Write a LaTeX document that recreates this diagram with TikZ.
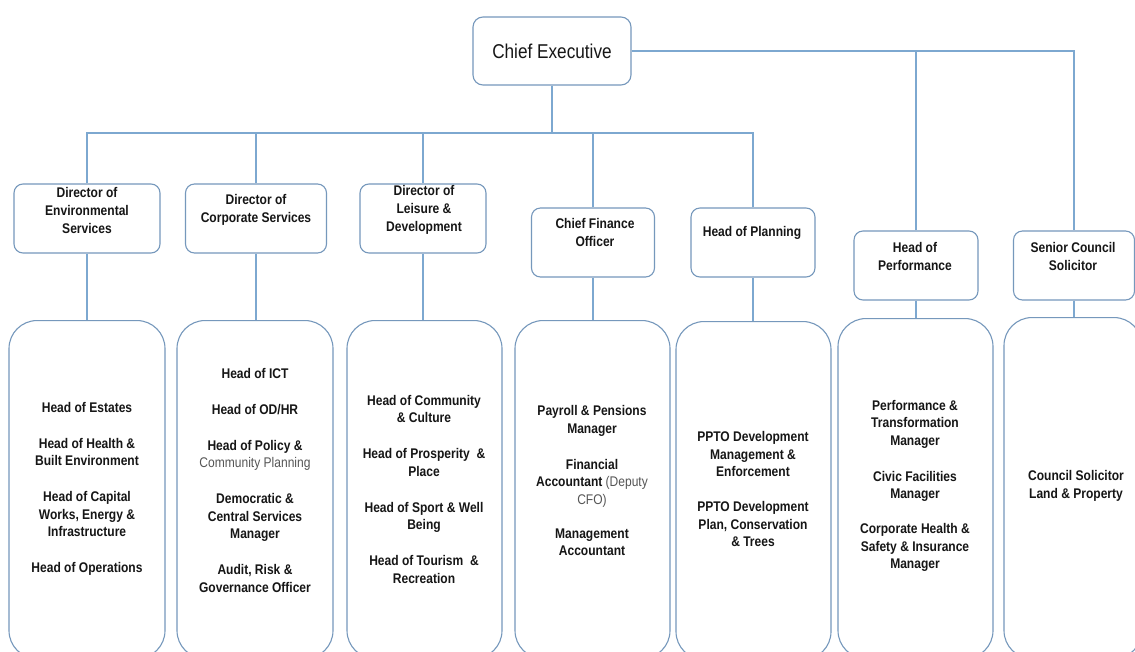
\documentclass[tikz,border=0pt]{standalone}
\usepackage{fontspec}
\setmainfont{Liberation Sans}
\newfontfamily\nbold[FakeStretch=0.86]{Liberation Sans Bold}
\newfontfamily\nreg[FakeStretch=0.86]{Liberation Sans}
\definecolor{linec}{RGB}{125,168,208}
\definecolor{boxc}{RGB}{118,152,188}
\definecolor{txtc}{RGB}{22,22,22}
\definecolor{greytxt}{RGB}{85,85,85}
\tikzset{
  conn/.style={draw=linec, line width=1.2pt},
  topbox/.style={draw=boxc, line width=1.1pt, rounded corners=10pt, fill=white, inner sep=0pt, text=txtc},
  dirbox/.style={draw=boxc, line width=1.1pt, rounded corners=9pt, fill=white, minimum height=69pt, inner sep=0pt},
  bigbox/.style={draw=boxc, line width=1.1pt, rounded corners=28pt, inner sep=0pt},
  dirtxt/.style={align=center, font=\nbold\fontsize{14}{18}\selectfont, text=txtc, inner sep=0pt},
  bodytxt/.style={align=center, font=\nbold\fontsize{14}{17.5}\selectfont, text=txtc, inner sep=0pt},
}
\newcommand{\gr}[1]{{\nreg\color{greytxt}#1}}
\begin{document}
\begin{tikzpicture}[x=1pt,y=-1pt]
\useasboundingbox (0,0) rectangle (1135,651);
\clip (0,0) rectangle (1135,651);
\fill[white] (0,0) rectangle (1135,651);

% Chief Executive
\node[topbox, minimum width=158pt, minimum height=68pt, font=\nreg\fontsize{20}{24}\selectfont] (ceo) at (552,51) {Chief Executive};
\coordinate (bus) at (552,133);

% Director level boxes
\node[dirbox, minimum width=146pt] (env)  at (87,218.5) {};
\node[dirbox, minimum width=141pt] (corp) at (256,218.5) {};
\node[dirbox, minimum width=126pt] (leis) at (423,218.5) {};
\node[dirbox, minimum width=123pt] (cfo)  at (593,242.5) {};
\node[dirbox, minimum width=124pt] (plan) at (753,242.5) {};
\node[dirbox, minimum width=124pt] (perf) at (916,265.5) {};
\node[dirbox, minimum width=121pt] (sen)  at (1074,265.5) {};

\node[dirtxt] (envt)  at (87,210)  {Director of\\Environmental\\Services};
\node[dirtxt] (corpt) at (256,210) {Director of\\Corporate Services};
\node[dirtxt] (leist) at (424,210) {Director of\\Leisure \&\\Development};
\node[dirtxt] (cfot)  at (595,232.5) {Chief Finance\\Officer};
\node[dirtxt] (plant) at (752,233) {Head of Planning};
\node[dirtxt] (perft) at (915,256) {Head of\\Performance};
\node[dirtxt] (sent)  at (1073,256) {Senior Council\\Solicitor};

% Bottom boxes
\node[bigbox, minimum width=156pt, minimum height=338pt, anchor=north] (b1) at (87,320) {};
\node[bigbox, minimum width=156pt, minimum height=338pt, anchor=north] (b2) at (255,320) {};
\node[bigbox, minimum width=155pt, minimum height=338pt, anchor=north] (b3) at (424.5,320) {};
\node[bigbox, minimum width=155pt, minimum height=338pt, anchor=north] (b4) at (592.5,320) {};
\node[bigbox, minimum width=155pt, minimum height=338pt, anchor=north] (b5) at (753.5,321) {};
\node[bigbox, minimum width=155pt, minimum height=340pt, anchor=north] (b6) at (915.5,318) {};
\node[bigbox, minimum width=138pt, minimum height=341pt, anchor=north] (b7) at (1073,317) {};

\node[bodytxt] (t1) at (87,489) {Head of Estates\\[18.5pt]Head of Health \&\\Built Environment\\[18.5pt]Head of Capital\\Works, Energy \&\\Infrastructure\\[18.5pt]Head of Operations};
\node[bodytxt] (t2) at (255,480) {Head of ICT\\[18.5pt]Head of OD/HR\\[18.5pt]Head of Policy \&\\\gr{Community Planning}\\[18.5pt]Democratic \&\\Central Services\\Manager\\[18.5pt]Audit, Risk \&\\Governance Officer};
\node[bodytxt] (t3) at (424,489) {Head of Community\\\& Culture\\[18.5pt]Head of Prosperity \ \&\\Place\\[18.5pt]Head of Sport \& Well\\Being\\[18.5pt]Head of Tourism \ \&\\Recreation};
\node[bodytxt] (t4) at (592,480.5) {Payroll \& Pensions\\Manager\\[18.5pt]Financial\\Accountant \gr{(Deputy}\\\gr{CFO)}\\[16.5pt]Management\\Accountant};
\node[bodytxt] (t5) at (753,489) {PPTO Development\\Management \&\\Enforcement\\[17.5pt]PPTO Development\\Plan, Conservation\\\& Trees};
\node[bodytxt] (t6) at (915,486) {Performance \&\\Transformation\\Manager\\[18.5pt]Civic Facilities\\Manager\\[17.5pt]Corporate Health \&\\Safety \& Insurance\\Manager};
\node[bodytxt] (t7) at (1076,486) {Council Solicitor\\Land \& Property};

% Connectors
\draw[conn] (ceo.south) -- (bus);
\draw[conn] (env.north) |- (bus);
\draw[conn] (corp.north) |- (bus);
\draw[conn] (leis.north) |- (bus);
\draw[conn] (cfo.north) |- (bus);
\draw[conn] (plan.north) |- (bus);
\draw[conn] (ceo.east) -| (sen.north);
\draw[conn] (perf.north) |- (ceo.east);

\draw[conn] (env.south) -- (env.south |- b1.north);
\draw[conn] (corp.south) -- (corp.south |- b2.north);
\draw[conn] (leis.south) -- (leis.south |- b3.north);
\draw[conn] (cfo.south) -- (cfo.south |- b4.north);
\draw[conn] (plan.south) -- (plan.south |- b5.north);
\draw[conn] (perf.south) -- (perf.south |- b6.north);
\draw[conn] (sen.south) -- (sen.south |- b7.north);
\end{tikzpicture}
\end{document}
